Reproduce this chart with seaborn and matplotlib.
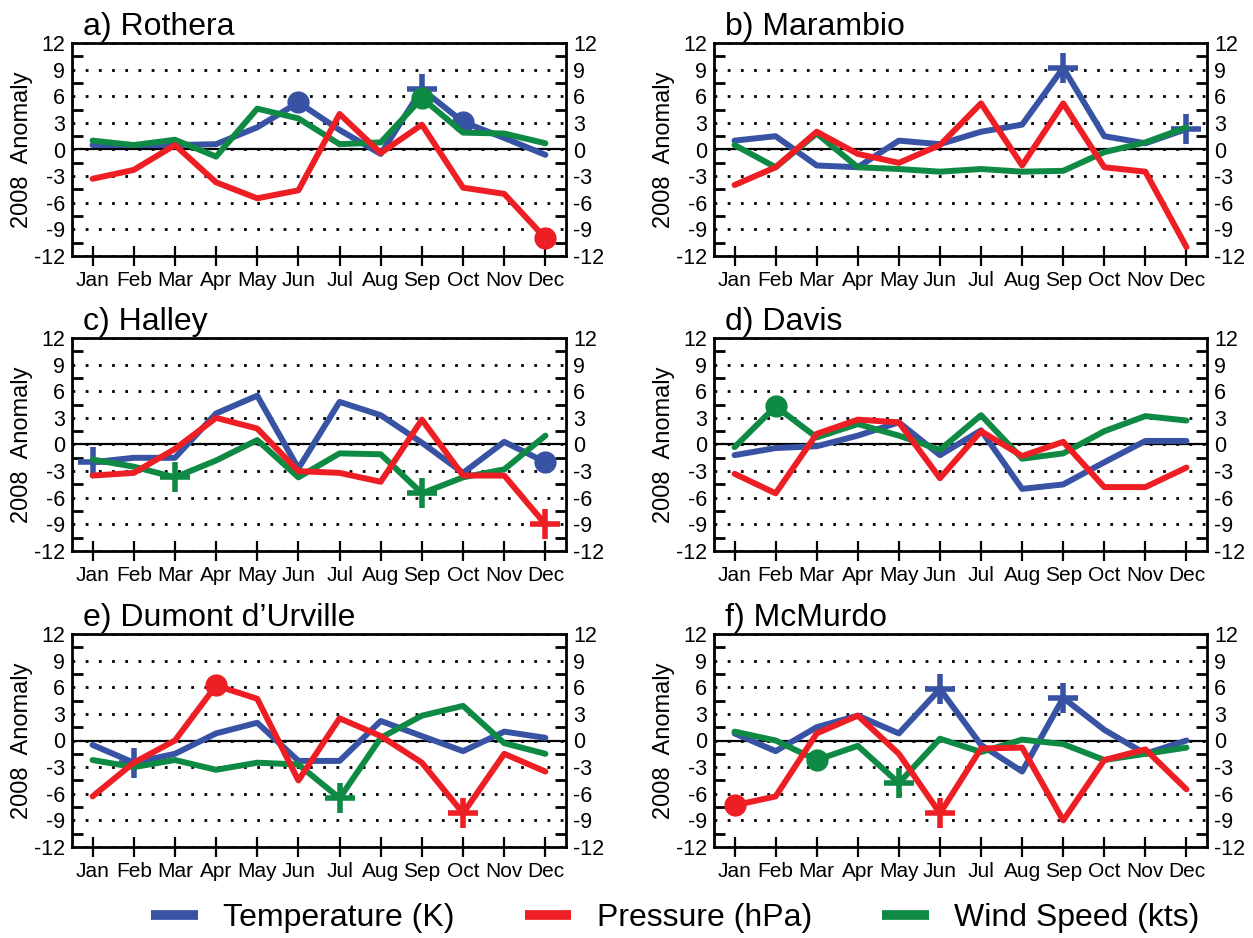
import numpy as np
import pandas as pd
import matplotlib
matplotlib.use("Agg")
import matplotlib.pyplot as plt
from matplotlib.lines import Line2D
import seaborn as sns

# ---------------- data ----------------
months = ["Jan", "Feb", "Mar", "Apr", "May", "Jun",
          "Jul", "Aug", "Sep", "Oct", "Nov", "Dec"]
variables = ["Temperature (K)", "Pressure (hPa)", "Wind Speed (kts)"]
yticks = [-12, -9, -6, -3, 0, 3, 6, 9, 12]
ytick_minor = [-10.5, -7.5, -4.5, -1.5, 1.5, 4.5, 7.5, 10.5]

titles = ["a) Rothera", "b) Marambio", "c) Halley",
          "d) Davis", "e) Dumont d\u2019Urville", "f) McMurdo"]

rothera_temp = [0.5, 0.5, 0.5, 0.6, 2.5, 5.3, 2.2, -0.5, 6.8, 3.1, 1.3, -0.6]
rothera_pres = [-3.3, -2.3, 0.5, -3.7, -5.5, -4.6, 4.0, -0.4, 2.8, -4.3, -5.0, -10.0]
rothera_wind = [1.0, 0.5, 1.1, -0.8, 4.6, 3.5, 0.6, 0.8, 5.8, 1.9, 1.8, 0.7]

marambio_temp = [1.0, 1.5, -1.8, -2.0, 1.0, 0.6, 2.0, 2.8, 9.2, 1.5, 0.7, 2.3]
marambio_pres = [-4.0, -2.0, 2.0, -0.5, -1.5, 0.5, 5.2, -1.8, 5.2, -2.0, -2.5, -11.0]
marambio_wind = [0.5, -2.0, 1.8, -2.0, -2.2, -2.5, -2.2, -2.5, -2.4, -0.3, 0.8, 2.5]

halley_temp = [-2.0, -1.5, -1.5, 3.5, 5.5, -2.7, 4.8, 3.3, 0.2, -3.2, 0.3, -2.0]
halley_pres = [-3.5, -3.2, -0.5, 3.0, 1.8, -3.0, -3.2, -4.2, 2.8, -3.5, -3.5, -9.0]
halley_wind = [-1.7, -2.5, -3.7, -1.8, 0.5, -3.7, -1.0, -1.1, -5.5, -3.7, -2.8, 1.0]

davis_temp = [-1.2, -0.4, -0.2, 1.0, 2.5, -1.2, 1.6, -5.0, -4.5, -2.0, 0.4, 0.4]
davis_pres = [-3.3, -5.5, 1.2, 2.8, 2.5, -3.8, 1.5, -1.3, 0.3, -4.8, -4.8, -2.6]
davis_wind = [-0.3, 4.3, 0.8, 2.3, 1.0, -0.6, 3.3, -1.6, -1.0, 1.5, 3.2, 2.7]

dumont_temp = [-0.5, -2.5, -1.5, 0.8, 2.0, -2.3, -2.3, 2.2, 0.5, -1.2, 1.0, 0.3]
dumont_pres = [-6.3, -2.5, 0.0, 6.2, 4.7, -4.5, 2.5, 0.5, -2.5, -8.2, -1.5, -3.5]
dumont_wind = [-2.2, -3.0, -2.2, -3.3, -2.5, -2.7, -6.5, 0.3, 2.8, 3.9, -0.3, -1.5]

mcmurdo_temp = [0.8, -1.2, 1.5, 2.8, 0.8, 5.8, -0.5, -3.5, 4.8, 1.2, -1.5, 0.0]
mcmurdo_pres = [-7.3, -6.3, 0.8, 2.8, -1.5, -8.2, -0.9, -0.8, -9.0, -2.2, -1.0, -5.5]
mcmurdo_wind = [1.0, 0.0, -2.2, -0.6, -4.8, 0.2, -1.3, 0.1, -0.4, -2.2, -1.5, -0.8]

# highlighted months: (variable, month, symbol)
rothera_marks = [("Temperature (K)", "Jun", "o"), ("Temperature (K)", "Sep", "+"),
                 ("Temperature (K)", "Oct", "o"), ("Wind Speed (kts)", "Sep", "o"),
                 ("Pressure (hPa)", "Dec", "o")]
marambio_marks = [("Temperature (K)", "Sep", "+"), ("Temperature (K)", "Dec", "+")]
halley_marks = [("Temperature (K)", "Jan", "+"), ("Wind Speed (kts)", "Mar", "+"),
                ("Wind Speed (kts)", "Sep", "+"), ("Pressure (hPa)", "Dec", "+"),
                ("Temperature (K)", "Dec", "o")]
davis_marks = [("Wind Speed (kts)", "Feb", "o")]
dumont_marks = [("Temperature (K)", "Feb", "+"), ("Pressure (hPa)", "Apr", "o"),
                ("Wind Speed (kts)", "Jul", "+"), ("Pressure (hPa)", "Oct", "+")]
mcmurdo_marks = [("Pressure (hPa)", "Jan", "o"), ("Wind Speed (kts)", "Mar", "o"),
                 ("Wind Speed (kts)", "May", "+"), ("Temperature (K)", "Jun", "+"),
                 ("Pressure (hPa)", "Jun", "+"), ("Temperature (K)", "Sep", "+")]

stations = [
    (rothera_temp, rothera_pres, rothera_wind, rothera_marks),
    (marambio_temp, marambio_pres, marambio_wind, marambio_marks),
    (halley_temp, halley_pres, halley_wind, halley_marks),
    (davis_temp, davis_pres, davis_wind, davis_marks),
    (dumont_temp, dumont_pres, dumont_wind, dumont_marks),
    (mcmurdo_temp, mcmurdo_pres, mcmurdo_wind, mcmurdo_marks),
]

# ---------------- style ----------------
palette = {"Temperature (K)": "#3953a4",
           "Pressure (hPa)": "#ed1f24",
           "Wind Speed (kts)": "#0f8a44"}
draw_order = ["Temperature (K)", "Wind Speed (kts)", "Pressure (hPa)"]

sns.set_style("ticks")
plt.rcParams["font.family"] = ["Liberation Sans", "DejaVu Sans"]
plt.rcParams["axes.linewidth"] = 2.0
plt.rcParams["text.color"] = "black"
plt.rcParams["axes.labelcolor"] = "black"
plt.rcParams["xtick.color"] = "black"
plt.rcParams["ytick.color"] = "black"

fig = plt.figure(figsize=(12.53, 9.38), dpi=100)

W, H = 1253.0, 938.0
col_left = [72 / W, 714 / W]
col_width = [494 / W, 493 / W]
row_bottom = [(H - 256) / H, (H - 551) / H, (H - 847) / H]
row_height = 213 / H

x_idx = np.arange(len(months))

for i, (temp, pres, wind, marks) in enumerate(stations):
    r, c = divmod(i, 2)
    ax = fig.add_axes([col_left[c], row_bottom[r], col_width[c], row_height])

    df = pd.DataFrame({
        "month": np.tile(x_idx, 3),
        "value": np.concatenate([temp, pres, wind]),
        "variable": np.repeat(variables, len(months)),
    })

    ax.axhline(0, color="black", lw=1.6, zorder=1.5)

    for k, var in enumerate(draw_order):
        sub = df[df["variable"] == var]
        sns.lineplot(data=sub, x="month", y="value", color=palette[var],
                     lw=4.3, ax=ax, estimator=None, sort=False,
                     legend=False, zorder=3 + k)
        for (mvar, mmon, sym) in marks:
            if mvar != var:
                continue
            mi = months.index(mmon)
            yv = sub["value"].to_numpy()[mi]
            if sym == "+":
                ax.plot([mi], [yv], marker="+", ms=21, mew=4.0,
                        color=palette[var], ls="none", zorder=3 + k)
            else:
                ax.plot([mi], [yv], marker="o", ms=16, mew=0,
                        color=palette[var], ls="none", zorder=3 + k)

    ax.set_xlim(-0.5, 11.5)
    ax.set_ylim(-12, 12)
    ax.set_xticks(x_idx)
    ax.set_xticklabels(months)
    ax.set_yticks(yticks)
    ax.set_yticklabels([str(t) for t in yticks])
    ax.set_yticks(ytick_minor, minor=True)

    ax.yaxis.grid(True, which="major", color="black",
                  linestyle=(0, (1, 3.75)), lw=2.0, zorder=1)
    ax.xaxis.grid(False)

    ax.tick_params(axis="x", which="major", direction="inout", length=14,
                   width=1.6, labelsize=15, pad=4, color="black")
    ax.tick_params(axis="y", which="major", length=0, labelsize=15.5, pad=5,
                   left=True, right=True, labelleft=True, labelright=True)
    ax.tick_params(axis="y", which="minor", direction="in", length=8,
                   width=2.0, left=True, right=True, color="black")
    for sp in ax.spines.values():
        sp.set_visible(True)
        sp.set_color("black")
        sp.set_linewidth(2.0)

    ax.set_xlabel("")
    ax.set_ylabel("2008  Anomaly", fontsize=17, labelpad=1)

    ax.annotate(titles[i], xy=(0, 1), xycoords="axes fraction",
                xytext=(8, 6), textcoords="offset points",
                ha="left", va="baseline", fontsize=23)

handles = [Line2D([0], [0], color=palette[v], lw=7, solid_capstyle="butt")
           for v in variables]
fig.legend(handles, variables, loc="center", ncol=3,
           bbox_to_anchor=(0.539, 0.021), frameon=False, fontsize=23,
           handlelength=1.45, handletextpad=0.8, columnspacing=2.2,
           borderpad=0, borderaxespad=0)

fig.savefig("out.png", dpi=100)
